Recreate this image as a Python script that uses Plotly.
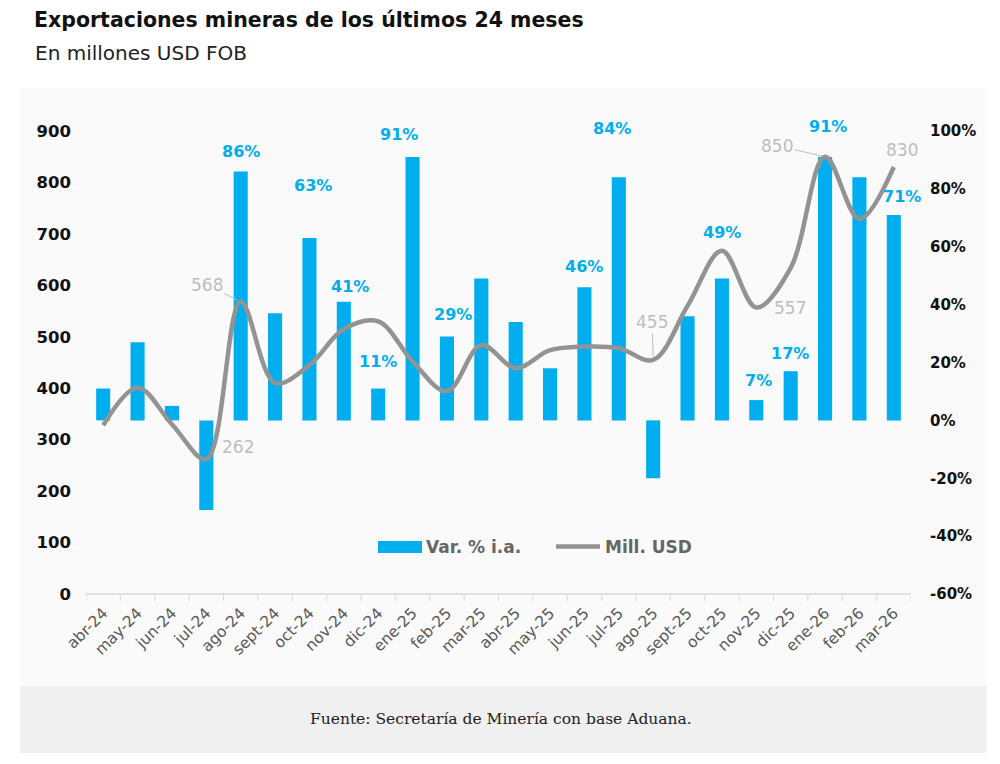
import plotly.graph_objects as go

months = [
    "abr-24", "may-24", "jun-24", "jul-24", "ago-24", "sept-24", "oct-24", "nov-24",
    "dic-24", "ene-25", "feb-25", "mar-25", "abr-25", "may-25", "jun-25", "jul-25",
    "ago-25", "sept-25", "oct-25", "nov-25", "dic-25", "ene-26", "feb-26", "mar-26",
]
var_pct = [11, 27, 5, -31, 86, 37, 63, 41, 11, 91, 29, 49, 34, 18, 46, 84,
           -20, 36, 49, 7, 17, 91, 84, 71]
mill_usd = [328, 401, 330, 262, 568, 410, 445, 515, 530, 452, 394, 484, 439, 474, 481, 478,
            455, 560, 667, 557, 634, 850, 729, 830]
bar_labels = ["", "", "", "", "86%", "", "63%", "41%", "11%", "91%", "29%", "", "", "", "46%", "84%",
              "", "", "49%", "7%", "17%", "91%", "", "71%"]
pct_ticks = [-60, -40, -20, 0, 20, 40, 60, 80, 100]
pct_tick_labels = ["-60%", "-40%", "-20%", "0%", "20%", "40%", "60%", "80%", "100%"]
# pixel nudges of the % labels so they clear the line: (xshift, gap above bar top)
bar_label_nudge = [None, None, None, None, (0, 20), None, (4, 53), (6, 15), (0, 27), (-14, 23), (6, 22),
                   None, None, None, (0, 21), (-7, 49), None, None, (0, 46), (2, 20), (-1, 18),
                   (3, 31), None, (8, 18)]

# labels on the USD line: (month, text, xshift, yshift, arrow offset or None)
line_labels = [
    ("ago-24", "568", 0, 0, (-34, -17)),
    ("jul-24", "262", 32, 12, None),
    ("ago-25", "455", 0, 0, (-1, -38)),
    ("nov-25", "557", 34, -1, None),
    ("ene-26", "850", 0, 0, (-48, -11)),
    ("mar-26", "830", 8, 17, None),
]

BLUE = "#00AEEF"
GREY_LINE = "#939393"
LABEL_GREY = "#bdbdbd"
FONT = "DejaVu Sans, Noto Sans, sans-serif"

# the page puts the figure 8px in from the window corner
W, H = 992, 756
PL, PR, PT, PB = 86, 911, 131, 594  # plot area in window pixels


def px(x):
    return (x - PL) / (PR - PL)


def py(y):
    return (PB - y) / (PB - PT)


fig = go.Figure()
fig.add_trace(
    go.Bar(
        x=months,
        y=var_pct,
        name="Var. % i.a.",
        marker={"color": BLUE, "line": {"width": 0}},
        width=0.41,
        yaxis="y",
    )
)
fig.add_trace(
    go.Scatter(
        x=months,
        y=mill_usd,
        name="Mill. USD",
        mode="lines",
        line={"color": GREY_LINE, "width": 4.5, "shape": "spline", "smoothing": 1.0},
        yaxis="y2",
        cliponaxis=False,
    )
)

annotations = [
    {
        "text": "En millones USD FOB",
        "xref": "paper", "yref": "paper",
        "x": px(33), "y": py(53),
        "xanchor": "left", "yanchor": "middle",
        "showarrow": False,
        "font": {"family": FONT, "size": 20, "color": "#222222"},
    },
    {
        "text": "Fuente: Secretaría de Minería con base Aduana.",
        "xref": "paper", "yref": "paper",
        "x": px(501), "y": py(719),
        "xanchor": "center", "yanchor": "middle",
        "showarrow": False,
        "font": {"family": "DejaVu Serif, Liberation Serif, serif", "size": 15.5, "color": "#222222"},
    },
    # legend texts
    {
        "text": "<b>Var. % i.a.</b>",
        "xref": "paper", "yref": "paper",
        "x": px(424), "y": py(547),
        "xanchor": "left", "yanchor": "middle",
        "showarrow": False,
        "font": {"family": FONT, "size": 17, "color": "#666666"},
    },
    {
        "text": "<b>Mill. USD</b>",
        "xref": "paper", "yref": "paper",
        "x": px(603), "y": py(547),
        "xanchor": "left", "yanchor": "middle",
        "showarrow": False,
        "font": {"family": FONT, "size": 17, "color": "#666666"},
    },
]
for month, value, text, nudge in zip(months, var_pct, bar_labels, bar_label_nudge):
    if not text:
        continue
    annotations.append({
        "text": f"<b>{text}</b>",
        "x": month, "y": value,
        "xref": "x", "yref": "y",
        "yanchor": "middle",
        "xshift": nudge[0], "yshift": nudge[1],
        "showarrow": False,
        "font": {"family": FONT, "size": 16, "color": BLUE},
    })
for month, text, xs, ys, arrow in line_labels:
    value = mill_usd[months.index(month)]
    ann = {
        "text": text,
        "x": month, "y": value,
        "xref": "x", "yref": "y2",
        "font": {"family": FONT, "size": 17, "color": LABEL_GREY},
    }
    if arrow:
        ann.update(showarrow=True, arrowhead=0, arrowwidth=1, arrowcolor=LABEL_GREY,
                   ax=arrow[0], ay=arrow[1], standoff=4)
    else:
        ann.update(showarrow=False, xshift=xs, yshift=ys)
    annotations.append(ann)

shapes = [
    # light card behind the chart
    {"type": "rect", "xref": "paper", "yref": "paper", "x0": px(20), "x1": px(987),
     "y0": py(686), "y1": py(88), "fillcolor": "#fafafa", "line": {"width": 0}, "layer": "below"},
    # footer band
    {"type": "rect", "xref": "paper", "yref": "paper", "x0": px(20), "x1": px(987),
     "y0": py(753), "y1": py(686), "fillcolor": "#f0f0f0", "line": {"width": 0}, "layer": "below"},
    # legend swatches
    {"type": "rect", "xref": "paper", "yref": "paper", "x0": px(378), "x1": px(422),
     "y0": py(553), "y1": py(541), "fillcolor": BLUE, "line": {"width": 0}},
    {"type": "line", "xref": "paper", "yref": "paper", "x0": px(556), "x1": px(600),
     "y0": py(546.5), "y1": py(546.5), "line": {"color": GREY_LINE, "width": 4.5}},
    # bottom axis line
    {"type": "line", "xref": "paper", "yref": "paper", "x0": 0, "x1": 1, "y0": 0, "y1": 0,
     "line": {"color": "#d9d9d9", "width": 1.5}},
]
# ticks between categories
for i in range(len(months) + 1):
    shapes.append({"type": "line", "xref": "x", "yref": "paper", "x0": i - 0.5, "x1": i - 0.5,
                   "y0": 0, "y1": -7 / (PB - PT), "line": {"color": "#d9d9d9", "width": 1}})

fig.update_layout(
    width=W,
    height=H,
    paper_bgcolor="white",
    plot_bgcolor="rgba(0,0,0,0)",
    title={
        "text": "<b>Exportaciones mineras de los últimos 24 meses</b>",
        "x": 26 / W, "xanchor": "left", "xref": "container",
        "y": 1 - 12 / H, "yanchor": "middle", "yref": "container",
        "font": {"family": FONT, "size": 20.5, "color": "#111111"},
    },
    margin={"l": PL - 8, "r": W - (PR - 8), "t": PT - 8, "b": H - (PB - 8), "autoexpand": False},
    showlegend=False,
    xaxis={
        "type": "category",
        "range": [-0.5, 23.5],
        "tickangle": -45,
        "ticklabelstandoff": 6,
        "tickfont": {"family": FONT, "size": 15.5, "color": "#595959"},
        "showgrid": False,
        "showline": False,
        "ticks": "",
        "zeroline": False,
    },
    yaxis={
        "side": "right",
        "range": [-60, 100],
        "tickvals": pct_ticks,
        "ticktext": pct_tick_labels,
        "showgrid": False,
        "zeroline": False,
        "ticklabelstandoff": 18,
        "tickfont": {"family": FONT, "size": 15, "color": "#111111", "weight": "bold"},
    },
    yaxis2={
        "side": "left",
        "overlaying": "y",
        "range": [0, 900],
        "dtick": 100,
        "showgrid": False,
        "zeroline": False,
        "ticklabelstandoff": 14,
        "tickfont": {"family": FONT, "size": 16.5, "color": "#111111", "weight": "bold"},
    },
    annotations=annotations,
    shapes=shapes,
)

fig.write_html("out.html")
